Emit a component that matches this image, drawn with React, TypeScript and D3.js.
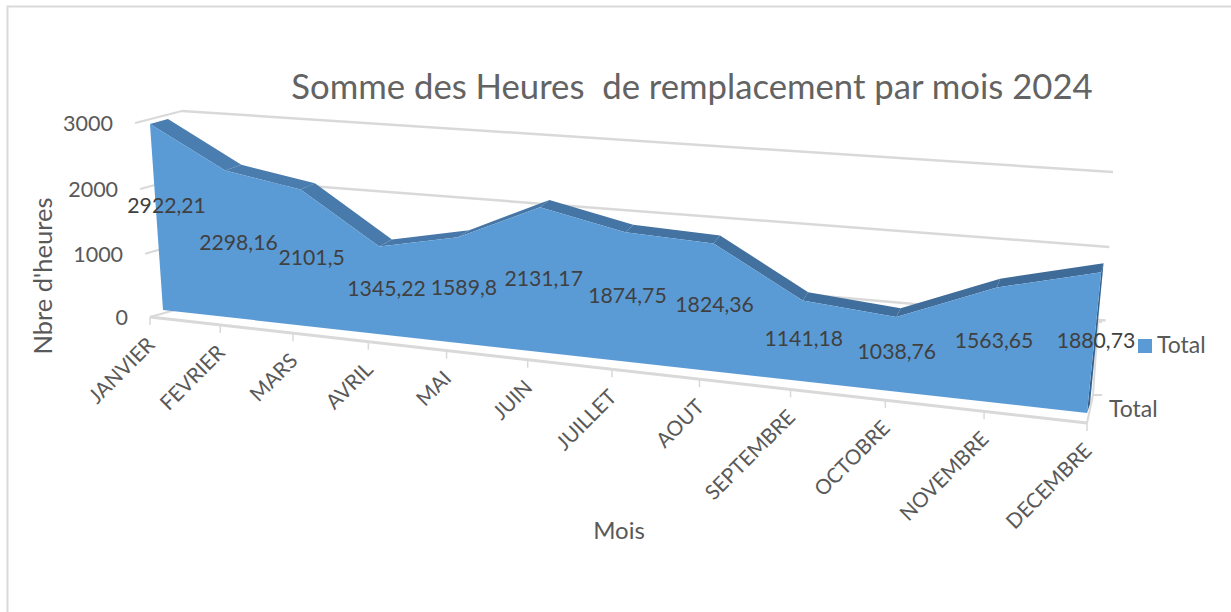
import React from "react";
import * as d3 from "d3";

const months = ["JANVIER","FEVRIER","MARS","AVRIL","MAI","JUIN","JUILLET","AOUT","SEPTEMBRE","OCTOBRE","NOVEMBRE","DECEMBRE"];
const hours = [2922.21,2298.16,2101.5,1345.22,1589.8,2131.17,1874.75,1824.36,1141.18,1038.76,1563.65,1880.73];
const labels = ["2922,21","2298,16","2101,5","1345,22","1589,8","2131,17","1874,75","1824,36","1141,18","1038,76","1563,65","1880,73"];
const labelNudgeX = [10,9,8,6,5,3.5,3,3,3,3,2,2];
const labelNudgeY = [-13,-2,-1,-2,-3,-2,-2,-3,-2,-2,-4,-3];
const yTicks = [0,1000,2000,3000];

type P = [number, number];
// Maps the unit square onto a quad (p0=(0,0), p1=(1,0), p2=(1,1), p3=(0,1))
function plane([p0,p1,p2,p3]: P[]) {
  const dx1=p1[0]-p2[0], dx2=p3[0]-p2[0], sx=p0[0]-p1[0]+p2[0]-p3[0];
  const dy1=p1[1]-p2[1], dy2=p3[1]-p2[1], sy=p0[1]-p1[1]+p2[1]-p3[1];
  const den=dx1*dy2-dx2*dy1;
  const g=(sx*dy2-dx2*sy)/den, h=(dx1*sy-sx*dy1)/den;
  const a=p1[0]-p0[0]+g*p1[0], b=p3[0]-p0[0]+h*p3[0], c=p0[0];
  const d=p1[1]-p0[1]+g*p1[1], e=p3[1]-p0[1]+h*p3[1], f=p0[1];
  return (u:number,v:number):P=>{const w=g*u+h*v+1;return [(a*u+b*v+c)/w,(d*u+e*v+f)/w];};
}
const xU = d3.scalePoint<string>().domain(months).range([0,1]);
const yV = d3.scaleLinear().domain([0,3000]).range([0,1]);

const front = plane([[163,310],[1087,413],[1110,185],[149.6,119]]);
const back = plane([[181,303],[1090,404],[1112,176],[167.6,114]]);
const wall = plane([[193,305],[1102,393],[1113,172],[182,111]]);
const box = plane([[150,317],[1087,423],[1106,186],[135,123]]);

const grey="#d9d9d9", txt="#595959", lab="#404040";
const font="Lato, sans-serif";
const poly=(pts:P[])=>d3.line()(pts)+"Z";

export default function App(){
  const f=months.map((m,i)=>front(xU(m)!,yV(hours[i])));
  const b=months.map((m,i)=>back(xU(m)!,yV(hours[i])));
  const f0=months.map((m)=>front(xU(m)!,0));
  const floorTicks=months.map((m)=>box(xU(m)!,0));
  return (
  <svg width={1231} height={612} style={{position:"absolute",left:0,top:0,background:"#fff"}}>
    <path d="M7.5 612V6.5H1231" fill="none" stroke={grey} strokeWidth={2}/>
    <text x={692} y={99} textAnchor="middle" fontFamily={font} fontSize={34.7} fill="#636363" xmlSpace="preserve">Somme des Heures  de remplacement par mois 2024</text>
    {/* walls */}
    {yTicks.map((t)=>{const v=yV(t);return (
      <g key={t}>
        {t>0&&<path d={d3.line()([wall(0,v),wall(1,v)])!} stroke={grey} strokeWidth={2.5} fill="none"/>}
        <path d={d3.line()([box(0,v),wall(0,v)])!} stroke={grey} strokeWidth={2} fill="none"/>
        <text x={box(0,v)[0]-22} y={box(0,v)[1]+8} textAnchor="end" fontFamily={font} fontSize={21.5} fill={txt}>{t}</text>
      </g>);})}
    {/* floor */}
    <path d={d3.line()([box(0,0),box(1,0)])!} stroke={grey} strokeWidth={3} fill="none"/>
    {floorTicks.map((p,i)=>(
      <path key={i} d={d3.line()([p,[p[0],p[1]+8]])!} stroke={grey} strokeWidth={1.5}/>
    ))}
    <path d={d3.line()([box(1,0),[1093,395],[1098,322]])!} stroke={grey} strokeWidth={2} fill="none"/>
    <path d={d3.line()([[1093,395],[1102,395]])!} stroke={grey} strokeWidth={2} fill="none"/>
    <path d={d3.line()([[1098,322],[1102,322]])!} stroke={grey} strokeWidth={2} fill="none"/>
    {/* area */}
    {months.slice(1).map((_,k)=>{const i=k+1;const t=i/11;return (
      <path key={i} d={poly([f[i-1],f[i],b[i],b[i-1]])} fill={d3.interpolateRgb("#4c80b2","#3f6b98")(t)}/>
    );})}
    <path d={poly([f[11],b[11],back(1,0),f0[11]])} fill="#35638f"/>
    <path d={poly([...f,f0[11],f0[0]])} fill="#5b9bd5"/>
    {/* value labels */}
    {months.map((m,i)=>{
      const mid=front(xU(m)!,yV(hours[i])/2);
      return <text key={m} x={mid[0]+labelNudgeX[i]} y={mid[1]+7+labelNudgeY[i]} textAnchor="middle" fontFamily={font} fontSize={21.2} fill={lab}>{labels[i]}</text>;
    })}
    {/* x labels */}
    {months.map((m,i)=>{const p=floorTicks[i];return (
      <text key={m} transform={`translate(${p[0]+6},${p[1]+29}) rotate(-45)`} textAnchor="end" fontFamily={font} fontSize={20.7} fill={txt}>{m}</text>
    );})}
    <text transform="translate(52,276) rotate(-90)" textAnchor="middle" fontFamily={font} fontSize={25.5} fill={txt}>Nbre d'heures</text>
    <text x={619} y={539} textAnchor="middle" fontFamily={font} fontSize={24} fill={txt}>Mois</text>
    <text x={1109} y={417} fontFamily={font} fontSize={23} fill={txt}>Total</text>
    <rect x={1138} y={339} width={14} height={14} fill="#5b9bd5"/>
    <text x={1157} y={353} fontFamily={font} fontSize={23} fill={txt}>Total</text>
  </svg>);
}
